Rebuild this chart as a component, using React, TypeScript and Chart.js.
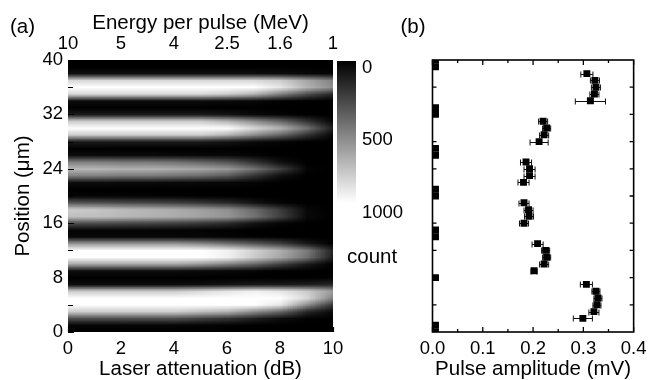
import React, { useEffect, useRef } from 'react';
import { Chart, registerables } from 'chart.js';
Chart.register(...registerables);

const FONT = '"Liberation Sans", Arial, Helvetica, sans-serif';
const TICK_SIZE = 18.5;
const TITLE_SIZE = 20.5;

// ---------- Panel (a): heat map data ----------
const attenuationDb = [0, 1, 2, 3, 4, 5, 6, 7, 8, 9, 10];
const positionsUm = [0, 1, 2, 3, 4, 5, 6, 7, 8, 9, 10, 11, 12, 13, 14, 15, 16, 17, 18, 19, 20,
  21, 22, 23, 24, 25, 26, 27, 28, 29, 30, 31, 32, 33, 34, 35, 36, 37, 38, 39, 40];
// counts, one row per position (0..40 um), one column per attenuation (0..10 dB)
const countGrid = [
  [0, 0, 0, 0, 0, 0, 0, 0, 0, 0, 0],
  [20, 20, 20, 20, 20, 15, 10, 5, 0, 0, 0],
  [300, 300, 300, 300, 300, 250, 200, 120, 50, 10, 0],
  [800, 800, 800, 800, 800, 750, 700, 550, 400, 150, 30],
  [1300, 1300, 1300, 1300, 1300, 1300, 1250, 1100, 900, 550, 200],
  [1300, 1300, 1300, 1300, 1300, 1300, 1300, 1250, 1100, 850, 500],
  [800, 800, 800, 800, 800, 850, 900, 950, 900, 800, 600],
  [50, 50, 50, 50, 50, 60, 80, 100, 100, 120, 150],
  [0, 0, 0, 0, 0, 0, 0, 0, 0, 0, 10],
  [50, 50, 50, 50, 50, 40, 30, 20, 0, 0, 0],
  [650, 650, 650, 650, 650, 600, 500, 400, 250, 100, 0],
  [1200, 1200, 1200, 1200, 1200, 1050, 950, 800, 650, 450, 100],
  [1200, 1200, 1200, 1200, 1200, 1050, 950, 820, 680, 480, 120],
  [600, 600, 600, 600, 600, 550, 450, 350, 250, 100, 0],
  [30, 30, 30, 30, 30, 30, 20, 10, 0, 0, 0],
  [20, 20, 20, 20, 15, 10, 5, 0, 0, 0, 0],
  [300, 300, 280, 270, 250, 220, 170, 80, 20, 0, 0],
  [750, 750, 720, 700, 680, 640, 590, 450, 250, 30, 0],
  [800, 780, 740, 710, 680, 630, 570, 420, 230, 30, 0],
  [350, 330, 300, 290, 260, 220, 170, 80, 20, 0, 0],
  [20, 20, 20, 15, 10, 5, 0, 0, 0, 0, 0],
  [0, 0, 0, 0, 0, 0, 0, 0, 0, 0, 0],
  [50, 50, 45, 45, 40, 35, 30, 20, 0, 0, 0],
  [500, 500, 480, 480, 450, 420, 350, 200, 60, 0, 0],
  [720, 720, 700, 700, 680, 650, 600, 450, 250, 20, 0],
  [500, 500, 480, 480, 450, 400, 330, 200, 60, 0, 0],
  [50, 50, 45, 45, 40, 35, 30, 20, 0, 0, 0],
  [0, 0, 0, 0, 0, 0, 0, 0, 0, 0, 0],
  [100, 100, 100, 100, 100, 100, 80, 40, 20, 0, 0],
  [800, 800, 800, 800, 800, 800, 700, 550, 400, 200, 20],
  [1300, 1300, 1300, 1300, 1300, 1300, 1050, 850, 700, 450, 100],
  [800, 800, 800, 800, 800, 800, 700, 550, 400, 200, 20],
  [100, 100, 100, 100, 100, 100, 80, 40, 20, 0, 0],
  [0, 0, 0, 0, 0, 0, 0, 0, 0, 0, 0],
  [50, 50, 50, 50, 50, 50, 40, 30, 10, 0, 0],
  [850, 850, 850, 850, 850, 850, 800, 700, 500, 300, 150],
  [1300, 1300, 1300, 1300, 1300, 1300, 1250, 1100, 900, 700, 550],
  [850, 850, 850, 850, 850, 850, 850, 850, 800, 650, 500],
  [60, 60, 60, 60, 60, 60, 60, 60, 50, 30, 20],
  [0, 0, 0, 0, 0, 0, 0, 0, 0, 0, 0],
  [0, 0, 0, 0, 0, 0, 0, 0, 0, 0, 0],
];
const attenuationTicks = [0, 2, 4, 6, 8, 10];
const energyLabels = ['10', '5', '4', '2.5', '1.6', '1'];
const positionTicks = [0, 8, 16, 24, 32, 40];
const positionMinorTicks = [4, 12, 20, 28, 36];
const colorbarTicks = [0, 500, 1000];
const countMax = 1000;

// ---------- Panel (b): pulse amplitude data ----------
const ampPositions = [38, 37, 36, 35, 34, 31, 30, 29, 28, 25, 24, 23, 22, 19, 18, 17, 16,
  13, 12, 11, 10, 9, 7, 6, 5, 4, 3, 2];
const ampValues = [0.307, 0.323, 0.325, 0.322, 0.314, 0.220, 0.227, 0.222, 0.212,
  0.186, 0.193, 0.193, 0.181, 0.182, 0.191, 0.192, 0.182,
  0.209, 0.225, 0.227, 0.222, 0.202, 0.306, 0.325, 0.329, 0.327, 0.321, 0.299];
const ampErrors = [0.012, 0.009, 0.009, 0.009, 0.030, 0.009, 0.008, 0.009, 0.018,
  0.011, 0.011, 0.011, 0.011, 0.010, 0.009, 0.009, 0.009,
  0.011, 0.008, 0.008, 0.009, 0.006, 0.012, 0.008, 0.008, 0.008, 0.010, 0.019];
const zeroPositions = [40, 39, 33, 32, 27, 26, 21, 20, 15, 14, 8, 1, 0];
const zeroValues = [0.006, 0.006, 0.006, 0.006, 0.006, 0.006, 0.006, 0.006, 0.006, 0.006, 0.006, 0.006, 0.006];
const ampMajorTicks = [0, 0.1, 0.2, 0.3, 0.4];
const ampMinorTicks = [0.05, 0.15, 0.25, 0.35];
const posTicksB = [4, 8, 12, 16, 20, 24, 28, 32, 36];

const grayOf = (v: number) => Math.round(Math.max(0, Math.min(1, v / countMax)) * 255);

const heatPlugin = {
  id: 'heat',
  beforeDatasetsDraw(chart: any) {
    const { ctx, chartArea: ca, scales } = chart;
    const xs = scales.x, ys = scales.y;
    const nCols = attenuationDb.length, nRows = positionsUm.length;
    const off = document.createElement('canvas');
    off.width = nCols; off.height = nRows;
    const octx = off.getContext('2d')!;
    const img = octx.createImageData(nCols, nRows);
    for (let r = 0; r < nRows; r++) {
      const row = countGrid[nRows - 1 - r];
      for (let c = 0; c < nCols; c++) {
        const g = grayOf(row[c]);
        const i = (r * nCols + c) * 4;
        img.data[i] = g; img.data[i + 1] = g; img.data[i + 2] = g; img.data[i + 3] = 255;
      }
    }
    octx.putImageData(img, 0, 0);
    const sx = attenuationDb[1] - attenuationDb[0];
    const sy = positionsUm[1] - positionsUm[0];
    const x0 = xs.getPixelForValue(attenuationDb[0] - sx / 2);
    const x1 = xs.getPixelForValue(attenuationDb[nCols - 1] + sx / 2);
    const y0 = ys.getPixelForValue(positionsUm[nRows - 1] + sy / 2);
    const y1 = ys.getPixelForValue(positionsUm[0] - sy / 2);
    ctx.save();
    ctx.beginPath();
    ctx.rect(ca.left, ca.top, ca.right - ca.left, ca.bottom - ca.top);
    ctx.clip();
    ctx.imageSmoothingEnabled = true;
    ctx.imageSmoothingQuality = 'low';
    ctx.drawImage(off, x0, y0, x1 - x0, y1 - y0);
    ctx.restore();
  },
  afterDraw(chart: any) {
    const { ctx, chartArea: ca, scales } = chart;
    const xs = scales.x, ys = scales.y;
    ctx.save();
    // inward ticks
    ctx.strokeStyle = '#000';
    ctx.lineWidth = 1.2;
    ctx.beginPath();
    positionTicks.forEach((v) => {
      const y = Math.round(ys.getPixelForValue(v)) + 0.5;
      ctx.moveTo(ca.left, y); ctx.lineTo(ca.left + 6, y);
    });
    positionMinorTicks.forEach((v) => {
      const y = Math.round(ys.getPixelForValue(v)) + 0.5;
      ctx.moveTo(ca.left, y); ctx.lineTo(ca.left + 5, y);
    });
    attenuationTicks.forEach((v) => {
      const x = Math.round(xs.getPixelForValue(v)) + 0.5;
      ctx.moveTo(x, ca.bottom); ctx.lineTo(x, ca.bottom - 5);
    });
    ctx.stroke();
    // colour bar
    const bl = ca.right + 4, br = ca.right + 23, bt = ca.top + 1, bb = ca.top + 143;
    for (let py = bt; py < bb; py++) {
      const v = ((py - bt + 0.5) / (bb - bt)) * countMax;
      const g = grayOf(v);
      ctx.fillStyle = `rgb(${g},${g},${g})`;
      ctx.fillRect(bl, py, br - bl, 1);
    }
    ctx.fillStyle = '#000';
    ctx.font = `${TICK_SIZE}px ${FONT}`;
    ctx.textAlign = 'left';
    ctx.textBaseline = 'middle';
    colorbarTicks.forEach((v) => {
      ctx.fillText(String(v), ca.right + 29, ca.top + 7.5 + (v / countMax) * 145);
    });
    ctx.font = `${TITLE_SIZE}px ${FONT}`;
    ctx.fillText('count', ca.right + 14, ca.top + 197);
    // panel label
    ctx.textBaseline = 'alphabetic';
    ctx.fillText('(a)', 10, 32.5);
    ctx.restore();
  },
};

const ampPlugin = {
  id: 'amp',
  beforeDatasetsDraw(chart: any) {
    const { ctx, scales } = chart;
    const xs = scales.x, ys = scales.y;
    ctx.save();
    ctx.strokeStyle = '#111';
    ctx.lineWidth = 1;
    ctx.beginPath();
    ampPositions.forEach((p, i) => {
      const y = Math.round(ys.getPixelForValue(p)) + 0.5;
      const xl = xs.getPixelForValue(ampValues[i] - ampErrors[i]);
      const xr = xs.getPixelForValue(ampValues[i] + ampErrors[i]);
      ctx.moveTo(xl, y); ctx.lineTo(xr, y);
      ctx.moveTo(xl, y - 3); ctx.lineTo(xl, y + 3);
      ctx.moveTo(xr, y - 3); ctx.lineTo(xr, y + 3);
    });
    ctx.stroke();
    ctx.restore();
  },
  afterDraw(chart: any) {
    const { ctx, chartArea: ca, scales } = chart;
    const xs = scales.x, ys = scales.y;
    ctx.save();
    ctx.strokeStyle = '#000';
    ctx.lineWidth = 1.6;
    ctx.strokeRect(ca.left, ca.top, ca.right - ca.left, ca.bottom - ca.top);
    ctx.lineWidth = 1.3;
    ctx.beginPath();
    ampMajorTicks.forEach((v) => {
      const x = xs.getPixelForValue(v);
      ctx.moveTo(x, ca.bottom); ctx.lineTo(x, ca.bottom - 5);
      ctx.moveTo(x, ca.top); ctx.lineTo(x, ca.top + 5);
    });
    ampMinorTicks.forEach((v) => {
      const x = xs.getPixelForValue(v);
      ctx.moveTo(x, ca.bottom); ctx.lineTo(x, ca.bottom - 3);
      ctx.moveTo(x, ca.top); ctx.lineTo(x, ca.top + 3);
    });
    posTicksB.forEach((v) => {
      const y = ys.getPixelForValue(v);
      ctx.moveTo(ca.left, y); ctx.lineTo(ca.left + 4, y);
      ctx.moveTo(ca.right, y); ctx.lineTo(ca.right - 4, y);
    });
    ctx.stroke();
    ctx.fillStyle = '#000';
    ctx.font = `${TITLE_SIZE}px ${FONT}`;
    ctx.textAlign = 'left';
    ctx.textBaseline = 'alphabetic';
    ctx.fillText('(b)', 0.5, 32.5);
    ctx.restore();
  },
};

export default function App() {
  const refA = useRef<HTMLCanvasElement>(null);
  const refB = useRef<HTMLCanvasElement>(null);

  useEffect(() => {
    Chart.defaults.font.family = FONT;
    Chart.defaults.color = '#000';
    const tickFont = { size: TICK_SIZE, family: FONT };
    const titleFont = { size: TITLE_SIZE, family: FONT, lineHeight: 1 };
    const noGrid = { display: false, drawTicks: false };

    const a = new Chart(refA.current!, {
      type: 'scatter',
      data: { datasets: [{ data: [] }] },
      options: {
        responsive: false,
        animation: false,
        layout: { padding: { left: 0, right: 87, top: 0, bottom: 0 } },
        plugins: { legend: { display: false }, tooltip: { enabled: false } },
        scales: {
          x: {
            type: 'linear', position: 'bottom', min: 0, max: 10,
            grid: noGrid, border: { display: false },
            afterBuildTicks: (s: any) => { s.ticks = attenuationTicks.map((v) => ({ value: v })); },
            afterFit: (s: any) => { s.height = 48; },
            ticks: { font: tickFont, padding: 5.5, maxRotation: 0, autoSkip: false },
            title: { display: true, text: 'Laser attenuation (dB)', font: titleFont, padding: { top: 0, bottom: 0 } },
          },
          x2: {
            type: 'linear', position: 'top', min: 0, max: 10,
            grid: noGrid, border: { display: false },
            afterBuildTicks: (s: any) => { s.ticks = attenuationTicks.map((v) => ({ value: v })); },
            afterFit: (s: any) => { s.height = 60; },
            ticks: { font: tickFont, padding: 5.3, maxRotation: 0, autoSkip: false,
              callback: (_v: any, i: number) => energyLabels[i] },
            title: { display: true, text: 'Energy per pulse (MeV)', font: titleFont, padding: { top: 12.75, bottom: 0 } },
          },
          y: {
            type: 'linear', position: 'left', min: 0, max: 40,
            grid: noGrid, border: { display: false },
            afterBuildTicks: (s: any) => { s.ticks = positionTicks.map((v) => ({ value: v })); },
            afterFit: (s: any) => { s.width = 68; },
            ticks: { font: tickFont, padding: 5, autoSkip: false },
            title: { display: true, text: 'Position (μm)', font: titleFont, padding: { top: 13.5, bottom: 0 } },
          },
        },
      },
      plugins: [heatPlugin],
    } as any);

    const b = new Chart(refB.current!, {
      type: 'scatter',
      data: {
        datasets: [
          {
            data: ampPositions.map((p, i) => ({ x: ampValues[i], y: p })),
            pointStyle: 'rect', pointRadius: 4.9, backgroundColor: '#000', borderColor: '#000', borderWidth: 0,
            clip: 0,
          },
          {
            data: zeroPositions.map((p, i) => ({ x: zeroValues[i], y: p })),
            pointStyle: 'rect', pointRadius: 4.9, backgroundColor: '#000', borderColor: '#000', borderWidth: 0,
            clip: 0,
          },
        ],
      },
      options: {
        responsive: false,
        animation: false,
        layout: { padding: { left: 0, right: 13, top: 60, bottom: 0 } },
        plugins: { legend: { display: false }, tooltip: { enabled: false } },
        scales: {
          x: {
            type: 'linear', position: 'bottom', min: 0, max: 0.4,
            grid: noGrid, border: { display: false },
            afterBuildTicks: (s: any) => { s.ticks = ampMajorTicks.map((v) => ({ value: v })); },
            afterFit: (s: any) => { s.height = 48; },
            ticks: { font: tickFont, padding: 5.5, maxRotation: 0, autoSkip: false,
              callback: (v: any) => Number(v).toFixed(1) },
            title: { display: true, text: 'Pulse amplitude (mV)', font: titleFont, padding: { top: 0, bottom: 0 } },
          },
          y: {
            type: 'linear', position: 'left', min: 0, max: 40,
            grid: noGrid, border: { display: false },
            afterFit: (s: any) => { s.width = 32.5; },
            ticks: { display: false },
          },
        },
      },
      plugins: [ampPlugin],
    } as any);

    return () => { a.destroy(); b.destroy(); };
  }, []);

  return (
    <div style={{ position: 'absolute', left: 0, top: 0, width: 652, height: 380, background: '#fff', overflow: 'hidden' }}>
      <canvas ref={refA} width={420} height={380} style={{ position: 'absolute', left: 0, top: 0 }} />
      <canvas ref={refB} width={252} height={380} style={{ position: 'absolute', left: 400, top: 0 }} />
    </div>
  );
}
